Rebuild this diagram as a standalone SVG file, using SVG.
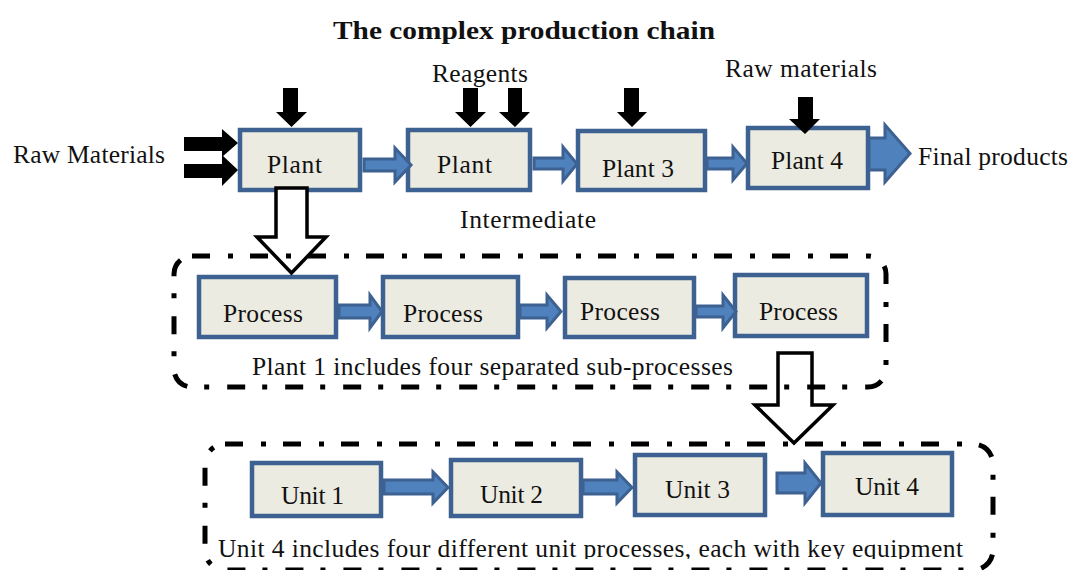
<svg xmlns="http://www.w3.org/2000/svg" width="1074" height="570" viewBox="0 0 1074 570">
<style>
.box{fill:#ecebe1;stroke:#3d6191;stroke-width:4.5}
.barrow{fill:#4f81bd;stroke:#3d6191;stroke-width:3}
.karrow{fill:#000}
.harrow{fill:#fff;stroke:#000;stroke-width:3.5}
.frame{fill:none;stroke:#000;stroke-width:5;stroke-dasharray:18 18 5 17}
.t{font-family:"Liberation Serif","Times New Roman",serif;font-size:25.5px;fill:#111}
.title{font-family:"Liberation Serif","Times New Roman",serif;font-size:26px;font-weight:bold;fill:#111}
</style>
<defs>
<clipPath id="cut"><rect x="0" y="0" width="1074" height="559"/></clipPath>
</defs>
<rect width="1074" height="570" fill="#fff"/>
<text class="title" x="333" y="39" textLength="382" lengthAdjust="spacingAndGlyphs">The complex production chain</text>

<g id="plant1"><rect class="box" x="240" y="130" width="120" height="60"/><text class="t" x="267" y="173" textLength="55">Plant</text></g>
<g id="plant2"><rect class="box" x="408" y="130" width="122" height="60"/><text class="t" x="437" y="173" textLength="55">Plant</text></g>
<g id="plant3"><rect class="box" x="578" y="131" width="127" height="59"/><text class="t" x="602" y="177" textLength="72">Plant 3</text></g>
<g id="plant4"><rect class="box" x="748" y="128" width="120" height="60"/><text class="t" x="771" y="169" textLength="72">Plant 4</text></g>

<g id="process1"><rect class="box" x="199" y="277" width="137" height="60"/><text class="t" x="223" y="322" textLength="80">Process</text></g>
<g id="process2"><rect class="box" x="383" y="277" width="135" height="60"/><text class="t" x="403" y="322" textLength="80">Process</text></g>
<g id="process3"><rect class="box" x="565" y="278" width="129" height="59"/><text class="t" x="580" y="320" textLength="80">Process</text></g>
<g id="process4"><rect class="box" x="735" y="275" width="132" height="61"/><text class="t" x="759" y="320" textLength="79">Process</text></g>

<g id="unit1"><rect class="box" x="252" y="463" width="129" height="53"/><text class="t" x="281" y="504" textLength="63">Unit 1</text></g>
<g id="unit2"><rect class="box" x="451" y="460" width="130" height="56"/><text class="t" x="480" y="503" textLength="63">Unit 2</text></g>
<g id="unit3"><rect class="box" x="635" y="455" width="130" height="60"/><text class="t" x="665" y="498" textLength="65">Unit 3</text></g>
<g id="unit4"><rect class="box" x="823" y="453" width="129" height="62"/><text class="t" x="855" y="495" textLength="64">Unit 4</text></g>

<g id="connectors">
<polygon class="barrow" points="364,159 395,159 395,148 411,165 395,182 395,171 364,171"/>
<polygon class="barrow" points="534,158 563,158 563,147 577,164 563,181 563,169 534,169"/>
<polygon class="barrow" points="707,158 733,158 733,147 747,163.5 733,180 733,169 707,169"/>
<polygon class="barrow" points="869,138 885,138 885,125 910,153.5 885,182 885,170 869,170"/>
<polygon class="barrow" points="339,305 370,305 370,295 382,311.5 370,328 370,318 339,318"/>
<polygon class="barrow" points="520,305 547,305 547,295 561,311.5 547,328 547,318 520,318"/>
<polygon class="barrow" points="696,306 723,306 723,295 736,311.5 723,328 723,317 696,317"/>
<polygon class="barrow" points="384,480 433,480 433,472 448,487.5 433,503 433,494 384,494"/>
<polygon class="barrow" points="583,480 617,480 617,472 632,487.5 617,503 617,494 583,494"/>
<polygon class="barrow" points="777,473 805,473 805,463 821,483 805,503 805,493 777,493"/>
<polygon class="karrow" points="283,88 298,88 298,112 307,112 291.5,127 276,112 283,112"/>
<polygon class="karrow" points="463,88 478,88 478,112 486,112 470.5,127 455,112 463,112"/>
<polygon class="karrow" points="508,88 522,88 522,112 530,112 515,127 499,112 508,112"/>
<polygon class="karrow" points="624,88 639,88 639,112 647,112 632,127 617,112 624,112"/>
<polygon class="karrow" points="798,97 813,97 813,119 820,119 805,134 789,119 798,119"/>
<polygon class="karrow" points="184,137 222,137 222,129 238,143 222,157 222,151 184,151"/>
<polygon class="karrow" points="184,164 222,164 222,155 238,170 222,186 222,178 184,178"/>
<polygon class="harrow" points="276,188 307,188 307,237 326,237 291.5,273 257,237 276,237"/>
<polygon class="harrow" points="778,353 812,353 812,405 833,405 794,443 755,405 778,405"/>
</g>

<g id="frame1"><rect class="frame" x="174" y="256" width="712" height="131" rx="18"/><text class="t" x="252" y="375" textLength="481">Plant 1 includes four separated sub-processes</text></g>
<g id="frame2"><rect class="frame" x="205" y="444" width="788" height="126" rx="20"/><text class="t" x="218" y="557" textLength="745" clip-path="url(#cut)">Unit 4 includes four different unit processes, each with key equipment</text></g>

<text class="t" x="13" y="163" textLength="152">Raw Materials</text>
<text class="t" x="432" y="82" textLength="96">Reagents</text>
<text class="t" x="725" y="77" textLength="152">Raw materials</text>
<text class="t" x="918" y="165" textLength="150">Final products</text>
<text class="t" x="460" y="228" textLength="136">Intermediate</text>
</svg>
